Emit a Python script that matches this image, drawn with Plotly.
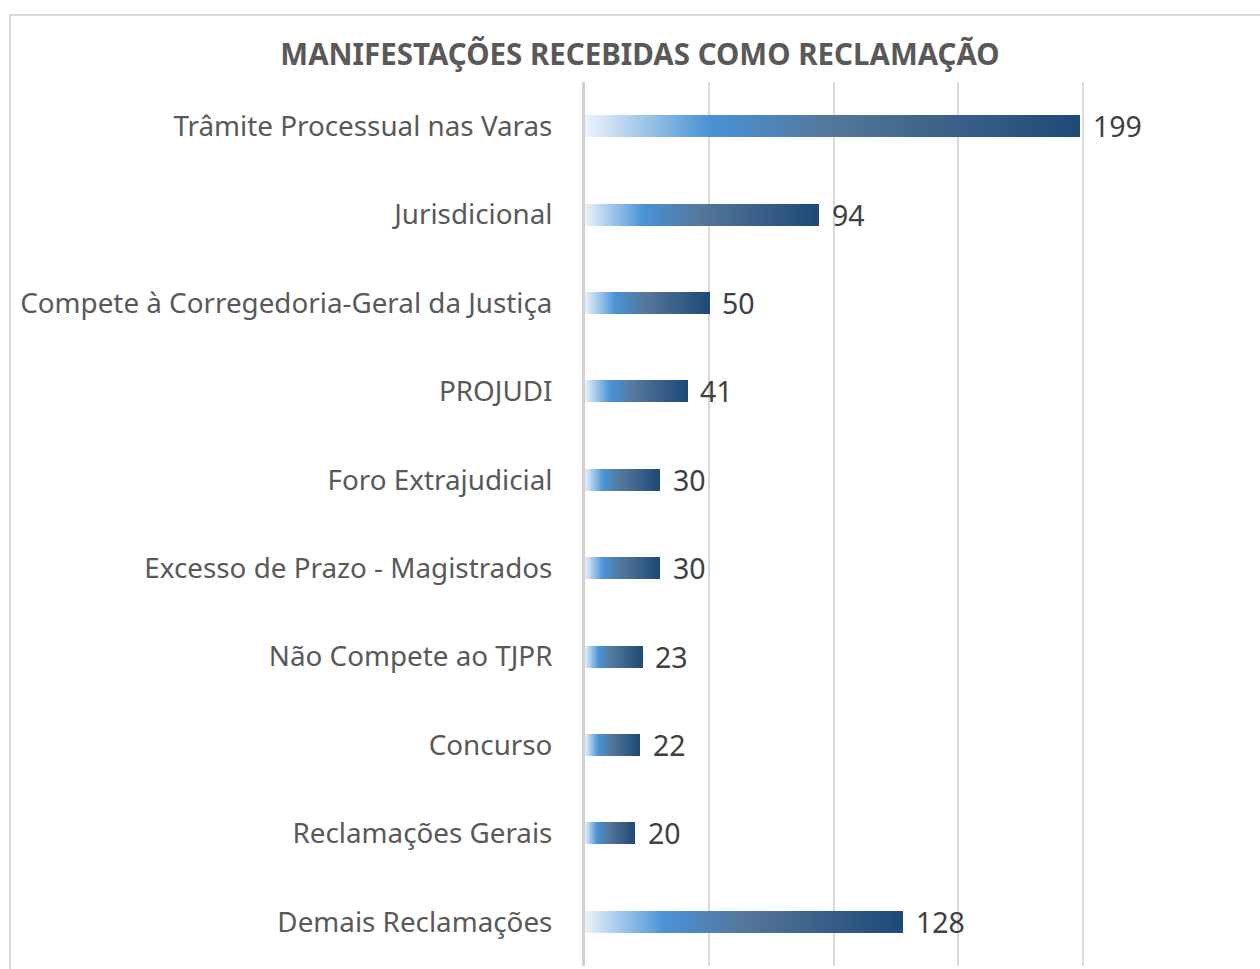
import plotly.graph_objects as go
import numpy as np

categories = [
    "Trâmite Processual nas Varas",
    "Jurisdicional",
    "Compete à Corregedoria-Geral da Justiça",
    "PROJUDI",
    "Foro Extrajudicial",
    "Excesso de Prazo - Magistrados",
    "Não Compete ao TJPR",
    "Concurso",
    "Reclamações Gerais",
    "Demais Reclamações",
]
values = [199, 94, 50, 41, 30, 30, 23, 22, 20, 128]
title_text = "MANIFESTAÇÕES RECEBIDAS COMO RECLAMAÇÃO"

# gradient stops (fraction of bar length -> color)
grad_pos = [0.0, 0.25, 0.5, 1.0]
grad_rgb = [(236, 243, 251), (74, 147, 214), (84, 118, 154), (30, 74, 119)]

def grad_color(t):
    r = np.interp(t, grad_pos, [c[0] for c in grad_rgb])
    g = np.interp(t, grad_pos, [c[1] for c in grad_rgb])
    b = np.interp(t, grad_pos, [c[2] for c in grad_rgb])
    return f"rgb({int(round(r))},{int(round(g))},{int(round(b))})"

N = 160
fig = go.Figure()
vals = np.array(values, dtype=float)
for k in range(N):
    fig.add_trace(go.Bar(
        x=vals / N,
        y=categories,
        orientation="h",
        marker=dict(color=grad_color((k + 0.5) / N), line=dict(width=0)),
        width=0.25,
        showlegend=False,
        hoverinfo="skip",
    ))

for c, v in zip(categories, values):
    fig.add_annotation(x=v, y=c, text=str(v), showarrow=False,
                       xanchor="left", xshift=11,
                       font=dict(family="Noto Sans", size=28.5, color="#404040"))

W, H = 1260, 969
l, r, t, b = 585, 53, 82, 3
pw, ph = W - l - r, H - t - b

def px_to_paper_x(px):
    return (px - l) / pw

def px_to_paper_y(py):
    return (H - b - py) / ph

fig.add_shape(type="rect", xref="paper", yref="paper",
              x0=px_to_paper_x(10), x1=px_to_paper_x(1275),
              y0=px_to_paper_y(985), y1=px_to_paper_y(15),
              line=dict(color="#d9d9d9", width=2), fillcolor="rgba(0,0,0,0)",
              layer="below")

fig.update_layout(
    width=W, height=H,
    margin=dict(l=l, r=r, t=t, b=b),
    barmode="stack",
    bargap=0.75,
    plot_bgcolor="white",
    paper_bgcolor="white",
    title=dict(text=f"<b>{title_text}</b>", x=640 / W, xref="container",
               xanchor="center", y=1 - 55 / H, yref="container", yanchor="middle",
               font=dict(family="Noto Sans", size=29.5, color="#595959")),
    xaxis=dict(range=[0, 250], dtick=50, showticklabels=False,
               showgrid=True, gridcolor="#d9d9d9", gridwidth=2,
               zeroline=False, showline=False, fixedrange=True),
    yaxis=dict(autorange="reversed", showgrid=False, zeroline=False,
               showline=True, linecolor="#d0d0d0", linewidth=3,
               ticks="", ticklabelstandoff=24,
               tickfont=dict(family="Noto Sans", size=27.8, color="#595959")),
)

fig.write_html("out.html")
